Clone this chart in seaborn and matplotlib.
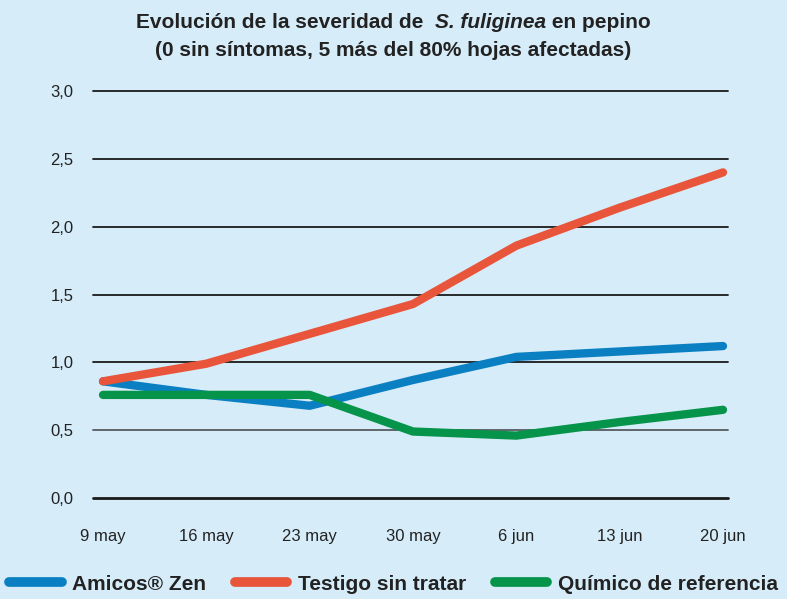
import matplotlib
matplotlib.use("Agg")
import matplotlib.pyplot as plt
from matplotlib.offsetbox import TextArea, HPacker, AnchoredOffsetbox
import seaborn as sns
import pandas as pd

# ---- data ----
fechas = ["9 may", "16 may", "23 may", "30 may", "6 jun", "13 jun", "20 jun"]
dias = [0, 7, 14, 21, 28, 35, 42]
amicos_zen = [0.86, 0.76, 0.68, 0.87, 1.04, 1.08, 1.12]
testigo = [0.86, 0.99, 1.21, 1.43, 1.86, 2.14, 2.40]
quimico = [0.76, 0.76, 0.76, 0.49, 0.46, 0.56, 0.65]
series = ["Amicos® Zen", "Testigo sin tratar", "Químico de referencia"]
colores = ["#0A80C2", "#E8553B", "#05944A"]
yticks = [0.0, 0.5, 1.0, 1.5, 2.0, 2.5, 3.0]

df = pd.DataFrame({
    "dia": dias * 3,
    "valor": amicos_zen + testigo + quimico,
    "serie": [series[0]] * 7 + [series[1]] * 7 + [series[2]] * 7,
})

sns.set_theme(style="white")
plt.rcParams["font.family"] = ["Liberation Sans", "DejaVu Sans"]

txt = "#222222"
bg = "#D6ECF9"
fig = plt.figure(figsize=(7.87, 5.99), dpi=100, facecolor=bg)
ax = fig.add_axes([93 / 787, 1 - 498 / 599, (728 - 93) / 787, (498 - 91) / 599])
ax.set_facecolor(bg)

sns.lineplot(data=df, x="dia", y="valor", hue="serie", palette=colores,
             hue_order=series, linewidth=6, ax=ax, legend=False, zorder=3)
for ln in ax.get_lines():
    ln.set_solid_capstyle("round")
    ln.set_solid_joinstyle("round")

ax.set_xlim(-0.68, 42.34)
ax.set_ylim(0, 3.0)
for y in yticks:
    if y == 0:
        ax.axhline(y, color="#1a1a1a", lw=2.0, zorder=1, clip_on=False)
    elif y == 0.5:
        ax.axhline(y, color="#555a60", lw=1.3, zorder=1, clip_on=False)
    else:
        ax.axhline(y, color="#1a1a1a", lw=1.3, zorder=1, clip_on=False)

for s in ax.spines.values():
    s.set_visible(False)

ax.set_yticks(yticks)
ax.set_yticklabels([f"{v:.1f}".replace(".", ",") for v in yticks], fontsize=12, color=txt)
ax.set_xticks(dias)
ax.set_xticklabels(fechas, fontsize=12, color=txt)
ax.tick_params(axis="y", length=0, pad=14)
ax.tick_params(axis="x", length=0, pad=22)
ax.set_xlabel("")
ax.set_ylabel("")

# title line 1 with italic species name
tsize = 15
bold = dict(size=tsize, weight="bold", color=txt)
parts = [
    TextArea("Evolución de la severidad de  ", textprops=bold),
    TextArea("S. fuliginea", textprops=dict(size=tsize, weight="bold", style="italic", color=txt)),
    TextArea(" en pepino", textprops=bold),
]
box = HPacker(children=parts, align="baseline", pad=0, sep=0)
anch = AnchoredOffsetbox(loc="center", child=box, frameon=False,
                         bbox_to_anchor=(0.5, 1 - 23 / 599), bbox_transform=fig.transFigure,
                         pad=0, borderpad=0)
fig.add_artist(anch)
fig.text(0.5, 1 - 50 / 599, "(0 sin síntomas, 5 más del 80% hojas afectadas)",
         ha="center", va="center", fontsize=tsize, fontweight="bold", color=txt)

handles = [plt.Line2D([0], [0], color=c, lw=7, solid_capstyle="round") for c in colores]
leg = fig.legend(handles, series, loc="center", bbox_to_anchor=(0.5, 1 - 584 / 599),
                 ncol=3, frameon=False, handlelength=2.5, handletextpad=0.5,
                 columnspacing=1.4, borderaxespad=0, borderpad=0,
                 prop={"weight": "bold", "size": 15})
for t in leg.get_texts():
    t.set_color(txt)

fig.savefig("out.png", dpi=100, facecolor=bg)
